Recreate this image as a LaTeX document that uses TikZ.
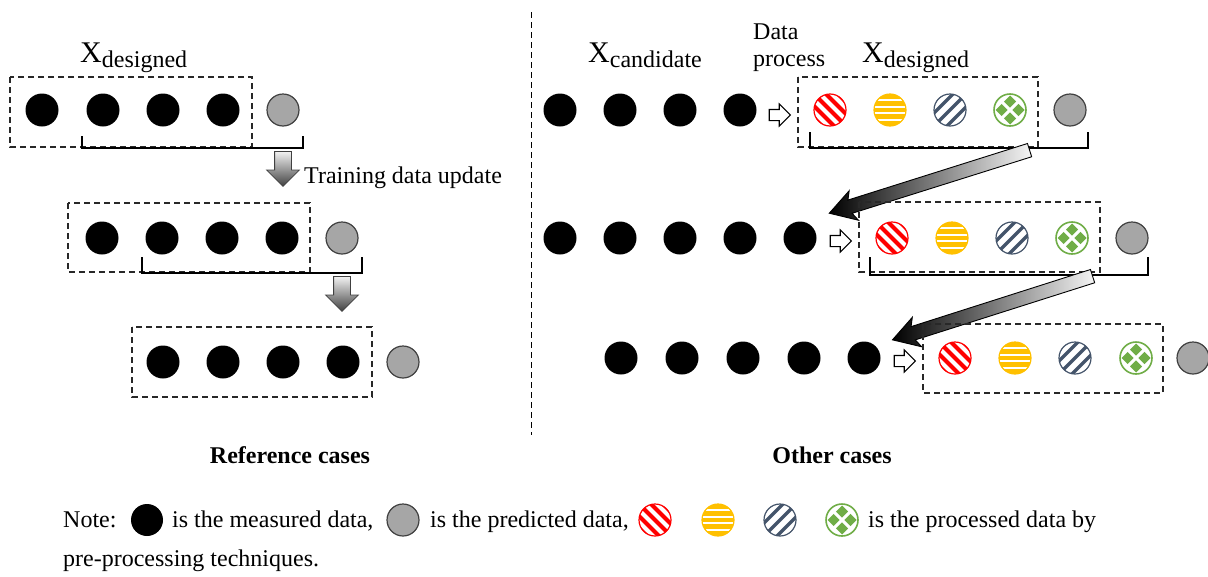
\documentclass[tikz,border=0pt]{standalone}
\usepackage{fontspec}
\setmainfont{Liberation Serif}
\usetikzlibrary{arrows.meta,positioning,fit,calc,shapes.arrows}
\definecolor{dpRed}{RGB}{255,0,0}
\definecolor{dpGold}{RGB}{255,192,0}
\definecolor{dpNavy}{RGB}{68,84,106}
\definecolor{dpGreen}{RGB}{112,173,71}
\definecolor{dpGray}{RGB}{166,166,166}
\definecolor{dpEdge}{RGB}{64,64,64}
\definecolor{dpDash}{RGB}{40,40,40}

\begin{document}
\begin{tikzpicture}[x=1pt,y=-1pt]
\tikzset{
meas/.style={circle,fill=black,minimum size=33pt,inner sep=0pt},
pred/.style={circle,draw=dpEdge,fill=dpGray,line width=1.2pt,minimum size=32pt,inner sep=0pt},
ball/.style={circle,minimum size=32pt,inner sep=0pt,line width=1.2pt,fill=white},
redball/.style={ball,draw=dpRed,path picture={\foreach \k in {-24,-12,0,12,24}
  \draw[dpRed,line width=4pt] ([xshift=\k pt]path picture bounding box.center) ++(-20pt,20pt) -- ++(40pt,-40pt);}},
goldball/.style={ball,draw=dpGold,fill=dpGold,path picture={\foreach \k in {-9.75,-3.25,3.25,9.75}
  \draw[white,line width=2.4pt] ([yshift=\k pt]path picture bounding box.center) ++(-20pt,0) -- ++(40pt,0);}},
navyball/.style={ball,draw=dpNavy,path picture={\foreach \k in {-13,0,13}
  \draw[dpNavy,line width=3.4pt] ([xshift=\k pt]path picture bounding box.center) ++(-20pt,-20pt) -- ++(40pt,40pt);}},
greenball/.style={ball,draw=dpGreen,line width=1.6pt,path picture={\foreach \a in {0,90,180,270}
  \fill[dpGreen] ([shift={(\a:8.5pt)}]path picture bounding box.center) ++(\a:6pt) -- ++(\a+135:8.5pt) -- ++(\a+225:8.5pt) -- ++(\a+315:8.5pt) -- cycle;}},
dbox/.style={draw=dpDash,dash pattern=on 6pt off 4pt,line width=1.3pt},
brk/.style={draw=black,line width=2.3pt},
sep/.style={draw=black,dash pattern=on 6pt off 4pt,line width=1pt},
txt/.style={font=\fontsize{24}{27}\selectfont,inner sep=0pt,text=black},
casecap/.style={font=\fontsize{24}{27}\selectfont\bfseries,inner sep=0pt},
downarr/.style={single arrow,draw=dpEdge,line width=.8pt,minimum height=35pt,inner xsep=0pt,inner ysep=8pt,
single arrow head extend=8pt,single arrow tip angle=90,top color=gray!10,bottom color=dpEdge},
diagarr/.style={single arrow,draw=black,line width=.9pt,minimum height=210pt,inner xsep=0pt,inner ysep=6.5pt,
single arrow head extend=8.5pt,single arrow tip angle=62,single arrow head indent=4pt,
left color=black,right color=gray!8},
procarr/.style={single arrow,draw=black,fill=white,line width=1.1pt,minimum height=21pt,inner xsep=0pt,inner ysep=5pt,
single arrow head extend=5.5pt,single arrow tip angle=90}
}
\useasboundingbox (0,0) rectangle (1208,576);
% reference cases
\node[txt,anchor=base west] (xdesL) at (80,62) {{\fontsize{30}{30}\selectfont X}\raisebox{-5pt}{designed}};
\foreach \i/\x in {1/42,2/103,3/163,4/223} \node[meas] (lA\i) at (\x,110) {};
\node[pred] (lA5) at (283,110) {};
\draw[dbox] (10,77) rectangle (252,147);
\draw[brk] (82,136) |- (303,148) -- (303,136);
\coordinate (lAd) at (283,151);
\coordinate (lBu) at (283,187);
\path (lAd) -- (lBu) node[pos=0,sloped,allow upside down,anchor=tail,downarr] (updA) {};
\node[txt,anchor=base west] (upd) at (304,183) {Training data update};
\foreach \i/\x in {1/102,2/162,3/222,4/282} \node[meas] (lB\i) at (\x,238) {};
\node[pred] (lB5) at (342,238) {};
\draw[dbox] (68,203) rectangle (310,272);
\draw[brk] (142,257) |- (362,273) -- (362,257);
\coordinate (lBd) at (342,276);
\coordinate (lCu) at (342,312);
\path (lBd) -- (lCu) node[pos=0,sloped,allow upside down,anchor=tail,downarr] (updB) {};
\foreach \i/\x in {1/163,2/223,3/283,4/343} \node[meas] (lC\i) at (\x,362) {};
\node[pred] (lC5) at (403,362) {};
\draw[dbox] (132,327) rectangle (372,397);
\draw[sep] (531,12) -- (531,435);
% other cases
\node[txt,anchor=base west] (xcand) at (588,62) {{\fontsize{30}{30}\selectfont X}\raisebox{-5pt}{candidate}};
\node[txt,anchor=north west,align=left] (dproc) at (753,24) {Data\\process};
\node[txt,anchor=base west] (xdesR) at (862,62) {{\fontsize{30}{30}\selectfont X}\raisebox{-5pt}{designed}};
\foreach \i/\x in {1/560,2/620,3/680,4/740} \node[meas] (rA\i) at (\x,110) {};
\node[procarr] (pA) at (777,115) {};
\foreach \s/\x in {redball/830,goldball/890,navyball/950,greenball/1010} \node[\s] (rA\s) at (\x,110) {};
\node[pred] (rA5) at (1070,110) {};
\draw[dbox] (798,77) rectangle (1038,147);
\draw[brk] (810,132) |- (1088,148) -- (1088,132);
\coordinate (rAt) at (1030,150);
\coordinate (rBh) at (830,213);
\path (rAt) -- (rBh) node[pos=0,sloped,allow upside down,anchor=tail,diagarr] (moveA) {};
\foreach \i/\x in {1/560,2/620,3/680,4/740,5/800} \node[meas] (rB\i) at (\x,238) {};
\node[procarr] (pB) at (838,241) {};
\foreach \s/\x in {redball/892,goldball/952,navyball/1012,greenball/1072} \node[\s] (rB\s) at (\x,238) {};
\node[pred] (rB5) at (1132,238) {};
\draw[dbox] (859,202) rectangle (1100,272);
\draw[brk] (870,257) |- (1148,275) -- (1148,257);
\coordinate (rBt) at (1093,276);
\coordinate (rCh) at (892,340);
\path (rBt) -- (rCh) node[pos=0,sloped,allow upside down,anchor=tail,diagarr] (moveB) {};
\foreach \i/\x in {1/621,2/682,3/743,4/804,5/864} \node[meas] (rC\i) at (\x,358) {};
\node[procarr] (pC) at (902,361) {};
\foreach \s/\x in {redball/955,goldball/1015,navyball/1075,greenball/1136} \node[\s] (rC\s) at (\x,358) {};
\node[pred] (rC5) at (1193,358) {};
\draw[dbox] (923,324) rectangle (1163,393);
\node[casecap] (capRef) at (290,455) {Reference cases};
\node[casecap] (capOth) at (832,455) {Other cases};
% legend
\node[txt,anchor=base west] (note) at (63,527) {Note:};
\node[meas,minimum size=32pt] (kMeas) at (147,520) {};
\node[txt,anchor=base west] (tMeas) at (172,527) {is the measured data,};
\node[pred] (kPred) at (403,520) {};
\node[txt,anchor=base west] (tPred) at (430,527) {is the predicted data,};
\foreach \s/\x in {redball/655,goldball/718,navyball/780,greenball/842} \node[\s] (k\s) at (\x,520) {};
\node[txt,anchor=base west] (tProc) at (868,527) {is the processed data by};
\node[txt,anchor=base west] (tProc2) at (63,566) {pre-processing techniques.};
\end{tikzpicture}
\end{document}
